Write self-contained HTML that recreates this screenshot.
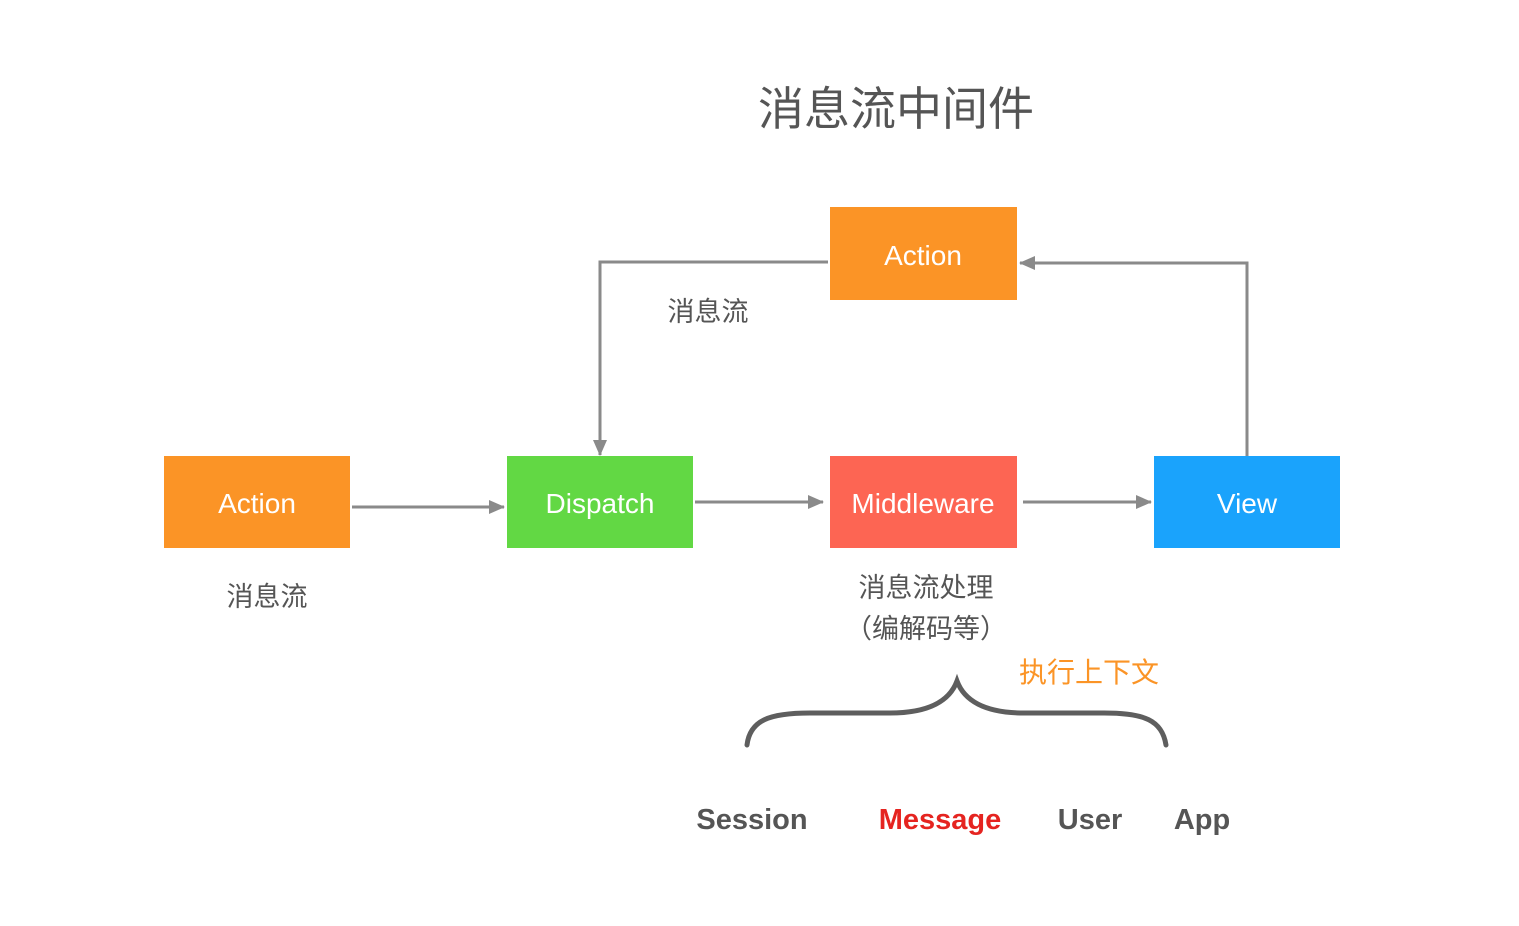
<!DOCTYPE html>
<html><head><meta charset="utf-8"><style>
html,body{margin:0;padding:0;background:#fff;}
svg{display:block}
text{font-family:"Liberation Sans","Noto Sans CJK SC",sans-serif;}
</style></head><body>
<svg width="1519" height="926" viewBox="0 0 1519 926" xmlns="http://www.w3.org/2000/svg">
<defs>
<marker id="a" markerWidth="10" markerHeight="10" refX="9" refY="5" orient="auto" markerUnits="userSpaceOnUse" viewBox="0 0 10 10">
<path d="M0,0 L10,5 L0,10 z" fill="#8a8a8a"/></marker>
<marker id="b" markerWidth="16" markerHeight="14" refX="15" refY="7" orient="auto" markerUnits="userSpaceOnUse" viewBox="0 0 16 14">
<path d="M0,0 L16,7 L0,14 z" fill="#8a8a8a"/></marker>
</defs>
<text x="896" y="125" font-size="46" fill="#555" text-anchor="middle">消息流中间件</text>

<rect x="830" y="207" width="187" height="93" fill="#fb9426"/>
<text x="923" y="265" font-size="28" fill="#fff" text-anchor="middle">Action</text>
<rect x="164" y="456" width="186" height="92" fill="#fb9426"/>
<text x="257" y="513" font-size="28" fill="#fff" text-anchor="middle">Action</text>
<rect x="507" y="456" width="186" height="92" fill="#62d844"/>
<text x="600" y="513" font-size="28" fill="#fff" text-anchor="middle">Dispatch</text>
<rect x="830" y="456" width="187" height="92" fill="#fd6553"/>
<text x="923" y="513" font-size="28" fill="#fff" text-anchor="middle">Middleware</text>
<rect x="1154" y="456" width="186" height="92" fill="#1aa3fc"/>
<text x="1247" y="513" font-size="28" fill="#fff" text-anchor="middle">View</text>

<g stroke="#8a8a8a" stroke-width="3" fill="none" marker-end="url(#b)">
<line x1="352" y1="507" x2="504" y2="507"/>
<line x1="695" y1="502" x2="823" y2="502"/>
<line x1="1023" y1="502" x2="1151" y2="502"/>
<polyline points="1247,456 1247,263 1020,263"/>
<polyline points="828,262 600,262 600,455"/>
</g>

<text x="708" y="321" font-size="27" fill="#555" text-anchor="middle">消息流</text>
<text x="267" y="606" font-size="27" fill="#555" text-anchor="middle">消息流</text>
<text x="926" y="597" font-size="27" fill="#555" text-anchor="middle">消息流处理</text>
<text x="926" y="638" font-size="27" fill="#555" text-anchor="middle">（编解码等）</text>
<text x="1089" y="682" font-size="28" fill="#fb9426" text-anchor="middle">执行上下文</text>

<path d="M747,745 C750,720 770,713 810,713 L890,713 C930,713 950,700 957,681 C964,700 984,713 1024,713 L1104,713 C1144,713 1162,720 1166,745" stroke="#5e5e5e" stroke-width="5" fill="none" stroke-linecap="round"/>

<g font-size="29" font-weight="bold" text-anchor="middle">
<text x="752" y="829" fill="#555">Session</text>
<text x="940" y="829" fill="#e52420">Message</text>
<text x="1090" y="829" fill="#555">User</text>
<text x="1202" y="829" fill="#555">App</text>
</g>
</svg>
</body></html>
